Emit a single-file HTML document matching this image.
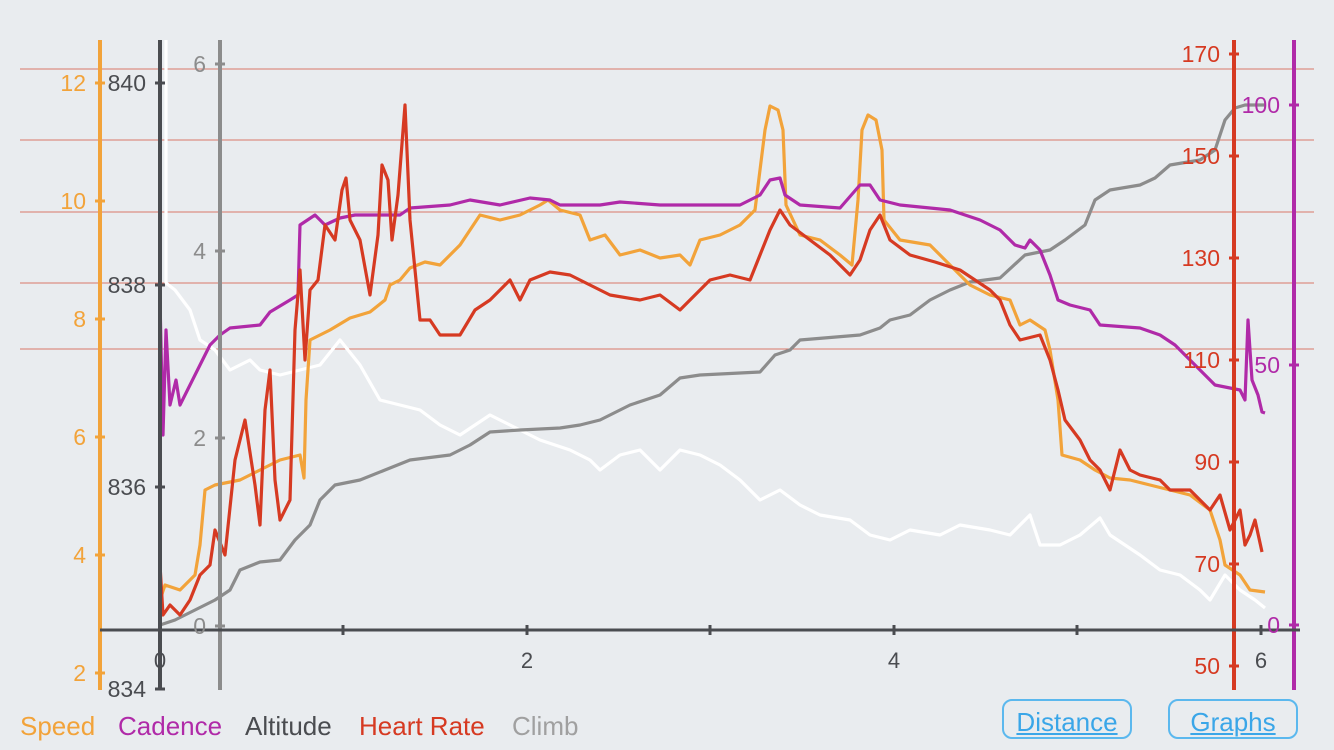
<!DOCTYPE html>
<html><head><meta charset="utf-8"><style>
body{margin:0;width:1334px;height:750px;background:#e9ecef;overflow:hidden;font-family:"Liberation Sans",sans-serif}
svg{position:absolute;left:0;top:0}
.btn{position:absolute;top:699px;width:126px;height:40px;border:2px solid #5bb8ee;border-radius:10px;color:#3aa6e8;font-size:26px;text-align:center;line-height:42px;text-decoration:underline;box-sizing:border-box}
</style></head><body>
<svg width="1334" height="750" viewBox="0 0 1334 750" font-family="Liberation Sans, sans-serif">
<g stroke="#d9786a" stroke-width="1">
<line x1="20" y1="69" x2="1314" y2="69"/><line x1="20" y1="140" x2="1314" y2="140"/><line x1="20" y1="212" x2="1314" y2="212"/><line x1="20" y1="283" x2="1314" y2="283"/><line x1="20" y1="349" x2="1314" y2="349"/>
</g>
<g fill="none" stroke-width="3.2" stroke-linejoin="round">
<polyline stroke="#ffffff" points="166,40 166,283 175,290 190,310 200,340 215,350 230,370 250,360 260,370 280,375 300,370 320,365 340,340 360,365 380,400 400,405 420,410 440,425 460,435 490,415 510,425 540,440 570,450 590,460 600,470 620,455 640,450 660,470 680,450 700,455 720,465 740,480 760,500 780,490 800,505 820,515 850,520 870,535 890,540 910,530 940,535 960,525 990,530 1010,535 1030,515 1040,545 1060,545 1080,535 1100,518 1110,535 1140,555 1160,570 1180,575 1200,590 1210,600 1225,575 1240,590 1255,600 1265,608"/>
<polyline stroke="#8c8c8c" points="160,625 175,620 195,610 215,600 230,590 240,570 260,562 280,560 295,540 310,525 320,500 335,485 360,480 385,470 410,460 450,455 470,445 490,432 520,430 560,428 580,425 600,420 630,405 660,395 680,378 700,375 760,372 775,355 790,350 800,340 860,335 880,328 890,320 910,315 930,300 950,290 970,282 1000,278 1025,255 1050,250 1065,240 1085,225 1095,200 1110,190 1140,185 1155,178 1170,165 1200,160 1215,150 1225,120 1235,108 1245,105 1265,105"/>
<polyline stroke="#f2a33a" points="160,600 165,585 180,590 195,575 200,545 205,490 215,485 240,480 260,470 280,460 300,455 304,478 306,400 310,340 330,330 350,318 370,312 385,300 390,285 400,280 410,268 425,262 440,265 460,245 480,215 500,220 520,215 540,205 548,200 560,210 580,215 590,240 605,235 620,255 640,250 660,258 680,255 690,265 700,240 720,235 740,225 755,210 765,130 770,106 778,110 783,130 786,205 800,235 820,240 840,255 852,265 858,200 862,130 868,115 876,120 882,150 884,220 900,240 930,245 950,265 970,285 990,295 1010,300 1020,325 1030,320 1045,330 1050,350 1058,400 1062,455 1080,460 1095,470 1110,478 1130,480 1150,485 1170,490 1190,495 1210,510 1220,540 1225,565 1240,575 1250,590 1265,592"/>
<polyline stroke="#b02aa8" points="160,300 163,435 166,330 170,405 176,380 180,405 190,385 200,365 210,345 220,335 230,328 260,325 270,312 290,300 298,295 300,225 315,215 325,225 340,218 355,215 400,215 410,208 450,205 470,200 500,205 530,198 550,200 560,205 600,205 620,202 660,205 700,205 740,205 760,195 770,180 780,178 785,195 800,205 840,208 860,185 870,185 880,200 900,205 950,210 980,220 1000,230 1015,245 1025,248 1030,240 1040,250 1050,275 1058,300 1070,305 1090,310 1100,325 1140,328 1160,335 1175,345 1190,360 1205,375 1215,385 1240,390 1245,400 1248,320 1252,380 1258,395 1262,412 1265,413"/>
<polyline stroke="#d63a22" points="160,565 163,615 170,605 180,615 190,600 200,575 210,565 215,530 225,555 235,460 245,420 255,485 260,525 265,410 270,370 275,480 280,520 290,500 295,330 300,270 305,360 310,290 318,280 325,225 335,240 342,190 346,178 350,220 360,240 370,295 378,235 382,165 388,180 392,240 398,195 405,105 410,220 420,320 430,320 440,335 460,335 475,310 490,300 500,290 510,280 520,300 530,280 550,272 570,275 590,285 610,295 640,300 660,295 680,310 700,290 710,280 730,275 750,280 760,255 770,230 780,210 790,225 810,240 830,255 850,275 860,260 870,230 880,215 890,240 910,255 935,262 960,270 990,290 1000,300 1010,325 1020,340 1040,335 1050,360 1058,390 1065,420 1080,440 1090,460 1100,470 1110,490 1120,450 1130,470 1140,475 1160,480 1170,490 1190,490 1200,500 1210,510 1220,495 1230,530 1240,510 1245,545 1250,535 1255,520 1262,552"/>
</g>
<line x1="100" y1="40" x2="100" y2="690" stroke="#f2a33a" stroke-width="4"/>
<line x1="160" y1="40" x2="160" y2="690" stroke="#4a4c50" stroke-width="4"/>
<line x1="220" y1="40" x2="220" y2="690" stroke="#8c8c8c" stroke-width="4"/>
<line x1="1234" y1="40" x2="1234" y2="690" stroke="#d63a22" stroke-width="4"/>
<line x1="1294" y1="40" x2="1294" y2="690" stroke="#b02aa8" stroke-width="4"/>
<line x1="100" y1="630" x2="1300" y2="630" stroke="#4a4c50" stroke-width="3"/>
<g stroke="#4a4c50" stroke-width="3">
<line x1="343" y1="625" x2="343" y2="635"/><line x1="527" y1="625" x2="527" y2="635"/><line x1="710" y1="625" x2="710" y2="635"/><line x1="894" y1="625" x2="894" y2="635"/><line x1="1077" y1="625" x2="1077" y2="635"/><line x1="1261" y1="625" x2="1261" y2="635"/>
<line x1="155" y1="83" x2="165" y2="83"/><line x1="155" y1="285" x2="165" y2="285"/><line x1="155" y1="487" x2="165" y2="487"/><line x1="155" y1="689" x2="165" y2="689"/>
</g>
<g stroke="#f2a33a" stroke-width="3"><line x1="95" y1="83" x2="105" y2="83"/><line x1="95" y1="201" x2="105" y2="201"/><line x1="95" y1="319" x2="105" y2="319"/><line x1="95" y1="437" x2="105" y2="437"/><line x1="95" y1="555" x2="105" y2="555"/><line x1="95" y1="673" x2="105" y2="673"/></g>
<g stroke="#8c8c8c" stroke-width="3"><line x1="215" y1="64" x2="225" y2="64"/><line x1="215" y1="251" x2="225" y2="251"/><line x1="215" y1="438" x2="225" y2="438"/><line x1="215" y1="626" x2="225" y2="626"/></g>
<g stroke="#d63a22" stroke-width="3"><line x1="1229" y1="54" x2="1239" y2="54"/><line x1="1229" y1="156" x2="1239" y2="156"/><line x1="1229" y1="258" x2="1239" y2="258"/><line x1="1229" y1="360" x2="1239" y2="360"/><line x1="1229" y1="462" x2="1239" y2="462"/><line x1="1229" y1="564" x2="1239" y2="564"/><line x1="1229" y1="666" x2="1239" y2="666"/></g>
<g stroke="#b02aa8" stroke-width="3"><line x1="1289" y1="105" x2="1299" y2="105"/><line x1="1289" y1="365" x2="1299" y2="365"/><line x1="1289" y1="625" x2="1299" y2="625"/></g>
<g font-size="23" text-anchor="end">
<g fill="#f2a33a"><text x="86" y="91">12</text><text x="86" y="209">10</text><text x="86" y="327">8</text><text x="86" y="445">6</text><text x="86" y="563">4</text><text x="86" y="681">2</text></g>
<g fill="#4a4c50"><text x="146" y="91">840</text><text x="146" y="293">838</text><text x="146" y="495">836</text><text x="146" y="697">834</text></g>
<g fill="#8c8c8c"><text x="206" y="72">6</text><text x="206" y="259">4</text><text x="206" y="446">2</text><text x="206" y="634">0</text></g>
<g fill="#d63a22"><text x="1220" y="62">170</text><text x="1220" y="164">150</text><text x="1220" y="266">130</text><text x="1220" y="368">110</text><text x="1220" y="470">90</text><text x="1220" y="572">70</text><text x="1220" y="674">50</text></g>
<g fill="#b02aa8"><text x="1280" y="113">100</text><text x="1280" y="373">50</text><text x="1280" y="633">0</text></g>
</g>
<g font-size="22" fill="#4a4c50" text-anchor="middle"><text x="160" y="668">0</text><text x="527" y="668">2</text><text x="894" y="668">4</text><text x="1261" y="668">6</text></g>
<g font-size="26"><text x="20" y="735" fill="#f2a33a">Speed</text><text x="118" y="735" fill="#b02aa8">Cadence</text><text x="245" y="735" fill="#4a4c50">Altitude</text><text x="359" y="735" fill="#d63a22">Heart Rate</text><text x="512" y="735" fill="#a0a0a0">Climb</text></g>
</svg>
<div class="btn" style="left:1002px;width:130px">Distance</div>
<div class="btn" style="left:1168px;width:130px">Graphs</div>
</body></html>
